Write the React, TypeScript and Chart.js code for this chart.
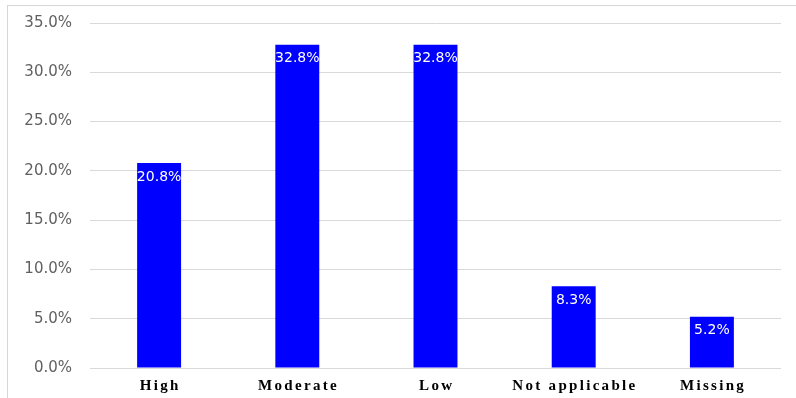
import React, { useEffect, useRef } from "react";
import { Chart, registerables } from "chart.js";

Chart.register(...registerables);

const categories = ["High", "Moderate", "Low", "Not applicable", "Missing"];
const values = [20.8, 32.8, 32.8, 8.3, 5.2];
const yMin = 0;
const yMax = 35;
const yStep = 5;

const barColor = "#0000FF";

const xLabelPlugin = {
  id: "xLabelPlugin",
  afterDraw(chart: any) {
    const ctx = chart.ctx;
    const xs = chart.scales.x;
    ctx.save();
    ctx.font = "bold 15px 'Liberation Serif', 'Times New Roman', serif";
    ctx.fillStyle = "#000000";
    ctx.textAlign = "center";
    ctx.textBaseline = "middle";
    try { (ctx as any).letterSpacing = "2.3px"; } catch (e) {}
    categories.forEach((c, i) => {
      const x = xs.getPixelForValue(i);
      ctx.fillText(c, x + 1.2, chart.chartArea.bottom + 18);
    });
    ctx.restore();
  },
};

const valueLabelPlugin = {
  id: "valueLabelPlugin",
  afterDatasetsDraw(chart: any) {
    const ctx = chart.ctx;
    const meta = chart.getDatasetMeta(0);
    ctx.save();
    ctx.font = "14px 'DejaVu Sans', Verdana, sans-serif";
    ctx.fillStyle = "#FFFFFF";
    ctx.textAlign = "center";
    ctx.textBaseline = "middle";
    meta.data.forEach((bar: any, i: number) => {
      ctx.fillText(values[i].toFixed(1) + "%", bar.x, bar.y + 14);
    });
    ctx.restore();
  },
};

export default function App() {
  const ref = useRef<HTMLCanvasElement | null>(null);
  useEffect(() => {
    if (!ref.current) return;
    const chart = new Chart(ref.current, {
      type: "bar",
      data: {
        labels: categories,
        datasets: [
          {
            data: values,
            backgroundColor: barColor,
            borderWidth: 0,
            barPercentage: 0.318,
            categoryPercentage: 1,
          },
        ],
      },
      options: {
        animation: false,
        responsive: false,
        maintainAspectRatio: false,
        layout: { padding: { top: 23, right: 15, bottom: 22, left: 0 } },
        plugins: {
          legend: { display: false },
          tooltip: { enabled: false },
        },
        scales: {
          x: {
            ticks: { display: false },
            grid: { display: false },
            border: { display: false },
          },
          y: {
            min: yMin,
            max: yMax,
            ticks: {
              stepSize: yStep,
              padding: 0,
              color: "#5f5f5f",
              font: { family: "'DejaVu Sans', Verdana, sans-serif", size: 15 },
              callback: (v: any) => Number(v).toFixed(1) + "%",
            },
            grid: { color: "#d9d9d9", lineWidth: 1, drawTicks: true, tickLength: 18, tickColor: "rgba(0,0,0,0)" },
            border: { display: false },
            afterFit: (s: any) => {
              s.width = 90;
            },
          },
        },
      },
      plugins: [valueLabelPlugin, xLabelPlugin],
    });
    return () => chart.destroy();
  }, []);
  return (
    <div style={{ position: "absolute", left: 0, top: 0, width: 796, height: 398, background: "#fff" }}>
      <canvas ref={ref} width={796} height={398} style={{ position: "absolute", left: 0, top: 0, width: 796, height: 398 }} />
      <div
        style={{
          position: "absolute",
          left: 7,
          top: 5,
          right: 0,
          bottom: 0,
          borderLeft: "1px solid #d6d6d6",
          borderTop: "1px solid #d6d6d6",
          pointerEvents: "none",
        }}
      />
    </div>
  );
}
